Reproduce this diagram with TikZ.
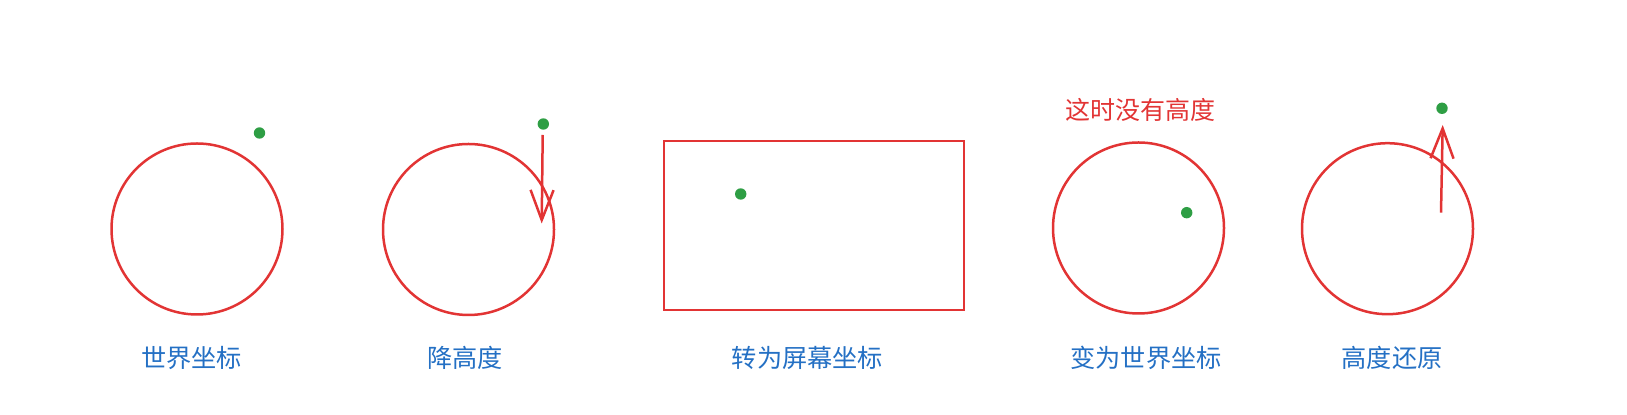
\documentclass[tikz,border=0pt]{standalone}
\usepackage{fontspec}
\setmainfont{Noto Sans CJK SC}
\usetikzlibrary{arrows.meta}
\definecolor{cred}{RGB}{226,52,52}
\definecolor{cgreen}{RGB}{46,158,68}
\definecolor{cblue}{RGB}{36,112,196}
\tikzset{
  ball/.style={circle,draw=cred,line width=1.25pt,minimum size=85.5pt,inner sep=0pt},
  dot/.style={circle,fill=cgreen,minimum size=5.7pt,inner sep=0pt},
  lbl/.style={text=cblue,font=\fontsize{12.6pt}{14pt}\selectfont,inner sep=0pt},
  note/.style={text=cred,font=\fontsize{12.5pt}{14pt}\selectfont,inner sep=0pt},
  arr/.style={draw=cred,line width=1.25pt,-{Straight Barb[length=15pt,width=11.5pt,line width=1.25pt]}},
  screen/.style={draw=cred,line width=1.25pt,minimum width=150pt,minimum height=84.5pt,inner sep=0pt}
}
\begin{document}
\begin{tikzpicture}[x=0.5pt,y=-0.5pt]
\path[use as bounding box] (0,0) rectangle (1627,415);
% 1 world
\node[ball] (c1) at (197,229) {};
\node[dot] (d1) at (259.5,133) {};
\node[lbl] (l1) at (191.5,358) {世界坐标};
% 2 lower height
\node[ball] (c2) at (468.5,229.5) {};
\node[dot] (d2) at (543.3,124) {};
\coordinate (a2s) at (542.7,135);
\coordinate (a2e) at (541.7,223.5);
\draw[arr] (a2s) -- (a2e);
\node[lbl] (l2) at (465,358) {降高度};
% 3 screen
\node[screen] (r3) at (814,225.5) {};
\node[dot] (d3) at (740.7,194) {};
\node[lbl] (l3) at (807.5,358) {转为屏幕坐标};
% 4 back to world
\node[ball] (c4) at (1138.5,228) {};
\node[dot] (d4) at (1186.7,212.7) {};
\node[note] (n4) at (1140,110) {这时没有高度};
\node[lbl] (l4) at (1146,358) {变为世界坐标};
% 5 restore height
\node[ball] (c5) at (1387.5,228.7) {};
\node[dot] (d5) at (1442,108.3) {};
\coordinate (a5s) at (1441,212.7);
\coordinate (a5e) at (1442.7,125);
\draw[arr] (a5s) -- (a5e);
\node[lbl] (l5) at (1392,358) {高度还原};
\end{tikzpicture}
\end{document}
